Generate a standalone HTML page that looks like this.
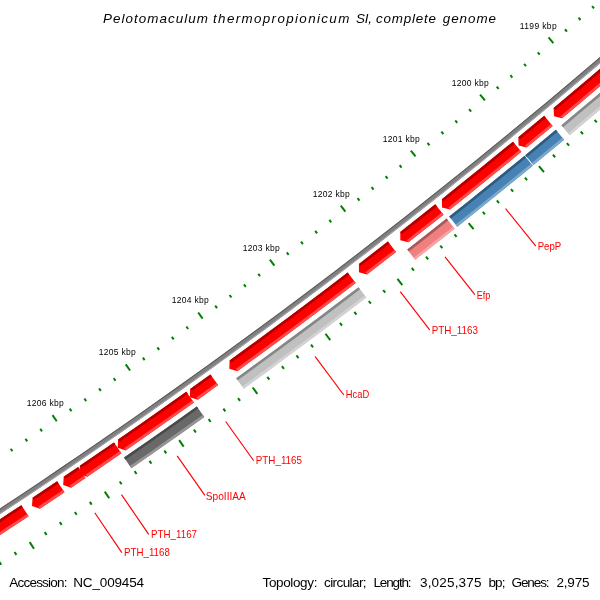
<!DOCTYPE html>
<html><head><meta charset="utf-8"><title>CGView map</title>
<style>
html,body{margin:0;padding:0;background:#fff;}
body{width:600px;height:600px;overflow:hidden;}
svg{display:block;font-family:"Liberation Sans",sans-serif;will-change:transform;}
</style></head><body>
<svg width="600" height="600" viewBox="0 0 600 600">
<rect x="0" y="0" width="600" height="600" fill="#fff"/>
<polygon points="681.56,-13.92 664.72,0.94 647.84,15.74 630.89,30.47 613.89,45.14 596.84,59.75 579.74,74.3 562.58,88.78 545.36,103.2 528.1,117.55 510.78,131.84 493.4,146.06 475.98,160.22 458.5,174.32 440.97,188.35 423.38,202.32 405.75,216.21 388.06,230.05 370.32,243.82 352.54,257.52 334.7,271.15 316.81,284.72 298.87,298.23 280.87,311.66 262.83,325.03 244.74,338.33 226.61,351.57 208.42,364.73 190.18,377.83 171.89,390.86 153.56,403.83 135.18,416.72 116.75,429.55 98.27,442.31 79.75,455 61.17,467.62 42.56,480.17 23.89,492.65 5.18,505.06 -13.58,517.4 -32.38,529.68 -51.23,541.88 -70.12,554.01 -89.06,566.07 -108.05,578.07 -105.46,582.17 -86.47,570.17 -67.51,558.1 -48.6,545.96 -29.74,533.74 -10.92,521.46 7.85,509.11 26.58,496.69 45.26,484.19 63.89,471.63 82.48,459 101.02,446.3 119.51,433.53 137.96,420.7 156.35,407.79 174.7,394.82 193,381.78 211.25,368.67 229.46,355.49 247.61,342.25 265.71,328.93 283.77,315.55 301.77,302.11 319.73,288.59 337.63,275.01 355.49,261.37 373.29,247.65 391.04,233.87 408.74,220.03 426.39,206.12 443.99,192.14 461.53,178.1 479.03,163.99 496.47,149.82 513.85,135.59 531.19,121.29 548.47,106.92 565.7,92.49 582.87,78 599.99,63.44 617.06,48.82 634.07,34.14 651.02,19.39 667.93,4.58 684.77,-10.29" fill="rgb(128,128,128)"/>
<polygon points="681.56,-13.92 664.72,0.94 647.84,15.74 630.89,30.47 613.89,45.14 596.84,59.75 579.74,74.3 562.58,88.78 545.36,103.2 528.1,117.55 510.78,131.84 493.4,146.06 475.98,160.22 458.5,174.32 440.97,188.35 423.38,202.32 405.75,216.21 388.06,230.05 370.32,243.82 352.54,257.52 334.7,271.15 316.81,284.72 298.87,298.23 280.87,311.66 262.83,325.03 244.74,338.33 226.61,351.57 208.42,364.73 190.18,377.83 171.89,390.86 153.56,403.83 135.18,416.72 116.75,429.55 98.27,442.31 79.75,455 61.17,467.62 42.56,480.17 23.89,492.65 5.18,505.06 -13.58,517.4 -32.38,529.68 -51.23,541.88 -70.12,554.01 -89.06,566.07 -108.05,578.07 -107.53,578.89 -88.54,566.89 -69.6,554.83 -50.7,542.7 -31.85,530.49 -13.05,518.22 5.71,505.87 24.43,493.46 43.1,480.97 61.72,468.42 80.29,455.8 98.82,443.11 117.3,430.35 135.73,417.52 154.12,404.62 172.46,391.66 190.74,378.62 208.98,365.52 227.18,352.35 245.32,339.12 263.41,325.81 281.45,312.44 299.45,299 317.39,285.5 335.28,271.93 353.13,258.29 370.92,244.58 388.66,230.81 406.35,216.98 423.98,203.08 441.57,189.11 459.1,175.08 476.59,160.98 494.02,146.82 511.39,132.59 528.71,118.3 545.98,103.94 563.2,89.52 580.36,75.04 597.47,60.49 614.53,45.88 631.53,31.2 648.47,16.47 665.36,1.67 682.2,-13.2" fill="rgb(90,90,90)"/>
<polygon points="684.13,-11.02 667.29,3.85 650.39,18.66 633.43,33.4 616.42,48.09 599.36,62.7 582.24,77.26 565.07,91.75 547.85,106.18 530.57,120.54 513.24,134.84 495.85,149.07 478.42,163.24 460.93,177.35 443.38,191.38 425.79,205.36 408.14,219.27 390.45,233.11 372.7,246.89 354.9,260.6 337.05,274.24 319.14,287.82 301.19,301.33 283.19,314.77 265.14,328.15 247.04,341.46 228.89,354.71 210.69,367.88 192.44,380.99 174.14,394.03 155.79,407 137.4,419.9 118.96,432.74 100.47,445.5 81.93,458.2 63.35,470.83 44.72,483.39 26.04,495.88 7.32,508.3 -11.45,520.65 -30.27,532.93 -49.13,545.14 -68.03,557.28 -86.99,569.35 -105.98,581.35 -105.46,582.17 -86.47,570.17 -67.51,558.1 -48.6,545.96 -29.74,533.74 -10.92,521.46 7.85,509.11 26.58,496.69 45.26,484.19 63.89,471.63 82.48,459 101.02,446.3 119.51,433.53 137.96,420.7 156.35,407.79 174.7,394.82 193,381.78 211.25,368.67 229.46,355.49 247.61,342.25 265.71,328.93 283.77,315.55 301.77,302.11 319.73,288.59 337.63,275.01 355.49,261.37 373.29,247.65 391.04,233.87 408.74,220.03 426.39,206.12 443.99,192.14 461.53,178.1 479.03,163.99 496.47,149.82 513.85,135.59 531.19,121.29 548.47,106.92 565.7,92.49 582.87,78 599.99,63.44 617.06,48.82 634.07,34.14 651.02,19.39 667.93,4.58 684.77,-10.29" fill="rgb(166,166,166)"/>
<polygon points="687.52,-7.19 668.6,9.51 649.61,26.13 630.55,42.67 611.42,59.13 592.22,75.51 572.95,91.81 553.61,108.03 553.97,116.33 562.08,118.16 581.45,101.91 600.76,85.57 620,69.16 639.18,52.66 658.28,36.08 677.31,19.43 696.28,2.69" fill="rgb(255,0,0)"/>
<polygon points="687.52,-7.19 668.6,9.51 649.61,26.13 630.55,42.67 611.42,59.13 592.22,75.51 572.95,91.81 553.61,108.03 555.31,110.06 574.65,93.83 593.93,77.52 613.13,61.14 632.27,44.67 651.34,28.12 670.34,11.5 689.28,-5.21" fill="rgb(178,0,0)"/>
<polygon points="694.53,0.72 675.57,17.44 656.55,34.09 637.45,50.66 618.29,67.15 599.05,83.56 579.75,99.89 560.38,116.14 562.08,118.16 581.45,101.91 600.76,85.57 620,69.16 639.18,52.66 658.28,36.08 677.31,19.43 696.28,2.69" fill="rgb(255,76,76)"/>
<polygon points="544.22,115.87 518.3,137.31 518.59,145.61 526.68,147.5 552.66,126.01" fill="rgb(255,0,0)"/>
<polygon points="544.22,115.87 518.3,137.31 519.97,139.35 545.91,117.89" fill="rgb(178,0,0)"/>
<polygon points="550.97,123.98 525,145.46 526.68,147.5 552.66,126.01" fill="rgb(255,76,76)"/>
<polygon points="513.01,141.65 495.31,156.12 477.55,170.53 459.73,184.87 441.86,199.14 442.02,207.44 450.08,209.47 467.99,195.17 485.84,180.8 503.64,166.36 521.39,151.85" fill="rgb(255,0,0)"/>
<polygon points="513.01,141.65 495.31,156.12 477.55,170.53 459.73,184.87 441.86,199.14 443.51,201.21 461.38,186.93 479.21,172.58 496.98,158.17 514.69,143.69" fill="rgb(178,0,0)"/>
<polygon points="519.71,149.81 501.98,164.31 484.18,178.74 466.34,193.11 448.44,207.41 450.08,209.47 467.99,195.17 485.84,180.8 503.64,166.36 521.39,151.85" fill="rgb(255,76,76)"/>
<polygon points="435.31,204.35 400.26,231.95 400.35,240.25 408.39,242.35 443.52,214.69" fill="rgb(255,0,0)"/>
<polygon points="435.31,204.35 400.26,231.95 401.89,234.03 436.95,206.41" fill="rgb(178,0,0)"/>
<polygon points="441.88,212.62 406.76,240.27 408.39,242.35 443.52,214.69" fill="rgb(255,76,76)"/>
<polygon points="387.91,241.57 358.94,263.95 358.96,272.25 366.98,274.42 396.02,251.99" fill="rgb(255,0,0)"/>
<polygon points="387.91,241.57 358.94,263.95 360.55,266.04 389.53,243.65" fill="rgb(178,0,0)"/>
<polygon points="394.4,249.9 365.37,272.32 366.98,274.42 396.02,251.99" fill="rgb(255,76,76)"/>
<polygon points="347.66,272.59 328.13,287.45 308.53,302.22 288.88,316.92 269.17,331.54 249.4,346.08 229.57,360.54 229.36,368.84 237.32,371.22 257.2,356.73 277.01,342.16 296.76,327.51 316.46,312.78 336.1,297.97 355.67,283.08" fill="rgb(255,0,0)"/>
<polygon points="347.66,272.59 328.13,287.45 308.53,302.22 288.88,316.92 269.17,331.54 249.4,346.08 229.57,360.54 231.12,362.68 250.96,348.21 270.74,333.67 290.46,319.04 310.12,304.33 329.72,289.55 349.26,274.69" fill="rgb(178,0,0)"/>
<polygon points="354.07,280.98 334.5,295.86 314.87,310.67 295.19,325.39 275.44,340.04 255.64,354.6 235.77,369.08 237.32,371.22 257.2,356.73 277.01,342.16 296.76,327.51 316.46,312.78 336.1,297.97 355.67,283.08" fill="rgb(255,76,76)"/>
<polygon points="210.4,374.4 190.15,388.92 189.88,397.22 197.82,399.66 218.11,385.11" fill="rgb(255,0,0)"/>
<polygon points="210.4,374.4 190.15,388.92 191.68,391.07 211.94,376.54" fill="rgb(178,0,0)"/>
<polygon points="216.57,382.97 196.28,397.51 197.82,399.66 218.11,385.11" fill="rgb(255,76,76)"/>
<polygon points="186.27,391.69 163.62,407.75 140.9,423.7 118.1,439.56 117.71,447.85 125.62,450.41 148.46,434.52 171.23,418.53 193.93,402.44" fill="rgb(255,0,0)"/>
<polygon points="186.27,391.69 163.62,407.75 140.9,423.7 118.1,439.56 119.61,441.73 142.41,425.87 165.14,409.9 187.8,393.84" fill="rgb(178,0,0)"/>
<polygon points="192.39,400.29 169.71,416.38 146.95,432.36 124.11,448.24 125.62,450.41 148.46,434.52 171.23,418.53 193.93,402.44" fill="rgb(255,76,76)"/>
<polygon points="113.96,442.42 79.84,465.82 79.38,474.12 87.27,476.74 121.46,453.28" fill="rgb(255,0,0)"/>
<polygon points="113.96,442.42 79.84,465.82 81.32,468.01 115.46,444.59" fill="rgb(178,0,0)"/>
<polygon points="119.96,451.11 85.78,474.55 87.27,476.74 121.46,453.28" fill="rgb(255,76,76)"/>
<polygon points="78.13,466.99 63.69,476.78 63.2,485.07 71.08,487.72 85.55,477.9" fill="rgb(255,0,0)"/>
<polygon points="78.13,466.99 63.69,476.78 65.16,478.97 79.61,469.17" fill="rgb(178,0,0)"/>
<polygon points="84.07,475.72 69.6,485.53 71.08,487.72 85.55,477.9" fill="rgb(255,76,76)"/>
<polygon points="57.12,481.21 32.55,497.7 32.01,505.98 39.87,508.68 64.5,492.16" fill="rgb(255,0,0)"/>
<polygon points="57.12,481.21 32.55,497.7 34.01,499.89 58.6,483.4" fill="rgb(178,0,0)"/>
<polygon points="63.03,489.97 38.41,506.48 39.87,508.68 64.5,492.16" fill="rgb(255,76,76)"/>
<polygon points="21.31,505.17 0.41,518.99 -20.56,532.72 -41.58,546.36 -62.65,559.92 -83.79,573.39 -84.51,581.66 -76.72,584.53 -55.54,571.03 -34.41,557.45 -13.35,543.77 7.66,530.01 28.61,516.17" fill="rgb(255,0,0)"/>
<polygon points="21.31,505.17 0.41,518.99 -20.56,532.72 -41.58,546.36 -62.65,559.92 -83.79,573.39 -82.37,575.62 -61.23,562.14 -40.14,548.58 -19.11,534.93 1.86,521.19 22.77,507.37" fill="rgb(178,0,0)"/>
<polygon points="27.15,513.97 6.21,527.81 -14.79,541.56 -35.85,555.23 -56.96,568.81 -78.13,582.3 -76.72,584.53 -55.54,571.03 -34.41,557.45 -13.35,543.77 7.66,530.01 28.61,516.17" fill="rgb(255,76,76)"/>
<polygon points="699.6,6.44 682.52,21.51 665.38,36.52 648.19,51.47 630.95,66.36 613.64,81.17 596.29,95.93 578.87,110.61 561.4,125.24 569.67,135.14 587.17,120.49 604.62,105.77 622.02,90.99 639.36,76.14 656.64,61.22 673.87,46.24 691.04,31.2 708.15,16.09" fill="rgb(192,192,192)"/>
<polygon points="699.6,6.44 682.52,21.51 665.38,36.52 648.19,51.47 630.95,66.36 613.64,81.17 596.29,95.93 578.87,110.61 561.4,125.24 563.06,127.22 580.53,112.59 597.95,97.9 615.32,83.14 632.63,68.31 649.88,53.42 667.08,38.47 684.22,23.45 701.31,8.37" fill="rgb(134,134,134)"/>
<polygon points="706.44,14.16 689.33,29.26 672.17,44.3 654.95,59.27 637.67,74.18 620.34,89.02 602.95,103.8 585.51,118.52 568.01,133.16 569.67,135.14 587.17,120.49 604.62,105.77 622.02,90.99 639.36,76.14 656.64,61.22 673.87,46.24 691.04,31.2 708.15,16.09" fill="rgb(211,211,211)"/>
<polygon points="555.86,129.86 525.26,155.14 533.44,165.11 564.11,139.77" fill="rgb(70,130,180)"/>
<polygon points="555.86,129.86 525.26,155.14 526.89,157.14 557.51,131.84" fill="rgb(49,91,126)"/>
<polygon points="562.46,137.79 531.81,163.12 533.44,165.11 564.11,139.77" fill="rgb(126,168,202)"/>
<polygon points="524.63,155.66 505.87,170.99 487.06,186.24 468.18,201.42 449.24,216.53 457.26,226.63 476.24,211.49 495.16,196.28 514.02,180.99 532.81,165.63" fill="rgb(70,130,180)"/>
<polygon points="524.63,155.66 505.87,170.99 487.06,186.24 468.18,201.42 449.24,216.53 450.84,218.55 469.79,203.44 488.68,188.25 507.5,172.99 526.27,157.65" fill="rgb(49,91,126)"/>
<polygon points="531.18,163.64 512.39,178.99 493.54,194.27 474.63,209.48 455.66,224.61 457.26,226.63 476.24,211.49 495.16,196.28 514.02,180.99 532.81,165.63" fill="rgb(126,168,202)"/>
<polygon points="446.62,218.6 426.98,234.12 407.27,249.56 415.2,259.73 434.96,244.26 454.64,228.71" fill="rgb(240,128,128)"/>
<polygon points="446.62,218.6 426.98,234.12 407.27,249.56 408.86,251.6 428.57,236.15 448.23,220.62" fill="rgb(168,90,90)"/>
<polygon points="453.04,226.69 433.36,242.23 413.62,257.7 415.2,259.73 434.96,244.26 454.64,228.71" fill="rgb(244,166,166)"/>
<polygon points="358.49,287.21 338.26,302.6 317.97,317.9 297.62,333.11 277.2,348.24 256.72,363.28 236.17,378.23 243.74,388.68 264.33,373.69 284.86,358.62 305.32,343.46 325.72,328.21 346.05,312.88 366.32,297.47" fill="rgb(192,192,192)"/>
<polygon points="358.49,287.21 338.26,302.6 317.97,317.9 297.62,333.11 277.2,348.24 256.72,363.28 236.17,378.23 237.68,380.32 258.24,365.36 278.73,350.31 299.16,335.18 319.52,319.96 339.82,304.65 360.06,289.26" fill="rgb(134,134,134)"/>
<polygon points="364.76,295.42 344.49,310.82 324.17,326.15 303.78,341.39 283.32,356.54 262.81,371.61 242.23,386.59 243.74,388.68 264.33,373.69 284.86,358.62 305.32,343.46 325.72,328.21 346.05,312.88 366.32,297.47" fill="rgb(211,211,211)"/>
<polygon points="196.83,406.51 172.64,423.66 148.37,440.69 124.01,457.6 131.34,468.22 155.75,451.27 180.07,434.2 204.32,417.01" fill="rgb(105,105,105)"/>
<polygon points="196.83,406.51 172.64,423.66 148.37,440.69 124.01,457.6 125.48,459.72 149.84,442.8 174.13,425.77 198.33,408.61" fill="rgb(74,74,74)"/>
<polygon points="202.82,414.91 178.59,432.09 154.27,449.15 129.87,466.09 131.34,468.22 155.75,451.27 180.07,434.2 204.32,417.01" fill="rgb(150,150,150)"/>
<line x1="677.03" y1="49.18" x2="682.23" y2="55.14" stroke="rgb(0,128,0)" stroke-width="2"/>
<line x1="621" y1="-15" x2="616.07" y2="-20.65" stroke="rgb(0,128,0)" stroke-width="2"/>
<line x1="663.38" y1="61.06" x2="665.61" y2="63.63" stroke="rgb(0,128,0)" stroke-width="2"/>
<line x1="607.55" y1="-3.29" x2="605.51" y2="-5.63" stroke="rgb(0,128,0)" stroke-width="2"/>
<line x1="649.7" y1="72.9" x2="651.92" y2="75.48" stroke="rgb(0,128,0)" stroke-width="2"/>
<line x1="594.05" y1="8.39" x2="592.03" y2="6.04" stroke="rgb(0,128,0)" stroke-width="2"/>
<line x1="635.98" y1="84.7" x2="638.19" y2="87.28" stroke="rgb(0,128,0)" stroke-width="2"/>
<line x1="580.52" y1="20.02" x2="578.51" y2="17.67" stroke="rgb(0,128,0)" stroke-width="2"/>
<line x1="622.23" y1="96.46" x2="624.43" y2="99.05" stroke="rgb(0,128,0)" stroke-width="2"/>
<line x1="566.96" y1="31.61" x2="564.95" y2="29.25" stroke="rgb(0,128,0)" stroke-width="2"/>
<line x1="608.44" y1="108.18" x2="613.54" y2="114.2" stroke="rgb(0,128,0)" stroke-width="2"/>
<line x1="553.37" y1="43.17" x2="548.52" y2="37.44" stroke="rgb(0,128,0)" stroke-width="2"/>
<line x1="594.61" y1="119.85" x2="596.8" y2="122.45" stroke="rgb(0,128,0)" stroke-width="2"/>
<line x1="539.73" y1="54.68" x2="537.74" y2="52.31" stroke="rgb(0,128,0)" stroke-width="2"/>
<line x1="580.75" y1="131.49" x2="582.93" y2="134.09" stroke="rgb(0,128,0)" stroke-width="2"/>
<line x1="526.07" y1="66.15" x2="524.08" y2="63.77" stroke="rgb(0,128,0)" stroke-width="2"/>
<line x1="566.86" y1="143.08" x2="569.03" y2="145.69" stroke="rgb(0,128,0)" stroke-width="2"/>
<line x1="512.37" y1="77.58" x2="510.39" y2="75.2" stroke="rgb(0,128,0)" stroke-width="2"/>
<line x1="552.93" y1="154.63" x2="555.1" y2="157.25" stroke="rgb(0,128,0)" stroke-width="2"/>
<line x1="498.64" y1="88.97" x2="496.66" y2="86.58" stroke="rgb(0,128,0)" stroke-width="2"/>
<line x1="538.97" y1="166.14" x2="543.98" y2="172.24" stroke="rgb(0,128,0)" stroke-width="2"/>
<line x1="484.87" y1="100.32" x2="480.11" y2="94.53" stroke="rgb(0,128,0)" stroke-width="2"/>
<line x1="524.97" y1="177.61" x2="527.12" y2="180.24" stroke="rgb(0,128,0)" stroke-width="2"/>
<line x1="471.07" y1="111.63" x2="469.11" y2="109.23" stroke="rgb(0,128,0)" stroke-width="2"/>
<line x1="510.94" y1="189.04" x2="513.08" y2="191.68" stroke="rgb(0,128,0)" stroke-width="2"/>
<line x1="457.23" y1="122.89" x2="455.28" y2="120.49" stroke="rgb(0,128,0)" stroke-width="2"/>
<line x1="496.88" y1="200.42" x2="499.01" y2="203.07" stroke="rgb(0,128,0)" stroke-width="2"/>
<line x1="443.37" y1="134.12" x2="441.42" y2="131.71" stroke="rgb(0,128,0)" stroke-width="2"/>
<line x1="482.78" y1="211.77" x2="484.9" y2="214.42" stroke="rgb(0,128,0)" stroke-width="2"/>
<line x1="429.47" y1="145.31" x2="427.53" y2="142.89" stroke="rgb(0,128,0)" stroke-width="2"/>
<line x1="468.64" y1="223.07" x2="473.57" y2="229.24" stroke="rgb(0,128,0)" stroke-width="2"/>
<line x1="415.53" y1="156.45" x2="410.86" y2="150.58" stroke="rgb(0,128,0)" stroke-width="2"/>
<line x1="454.48" y1="234.33" x2="456.59" y2="236.99" stroke="rgb(0,128,0)" stroke-width="2"/>
<line x1="401.56" y1="167.55" x2="399.64" y2="165.12" stroke="rgb(0,128,0)" stroke-width="2"/>
<line x1="440.28" y1="245.54" x2="442.38" y2="248.21" stroke="rgb(0,128,0)" stroke-width="2"/>
<line x1="387.56" y1="178.61" x2="385.65" y2="176.17" stroke="rgb(0,128,0)" stroke-width="2"/>
<line x1="426.05" y1="256.72" x2="428.14" y2="259.4" stroke="rgb(0,128,0)" stroke-width="2"/>
<line x1="373.53" y1="189.63" x2="371.62" y2="187.19" stroke="rgb(0,128,0)" stroke-width="2"/>
<line x1="411.78" y1="267.85" x2="413.87" y2="270.53" stroke="rgb(0,128,0)" stroke-width="2"/>
<line x1="359.47" y1="200.61" x2="357.56" y2="198.16" stroke="rgb(0,128,0)" stroke-width="2"/>
<line x1="397.48" y1="278.94" x2="402.32" y2="285.19" stroke="rgb(0,128,0)" stroke-width="2"/>
<line x1="345.37" y1="211.54" x2="340.78" y2="205.61" stroke="rgb(0,128,0)" stroke-width="2"/>
<line x1="383.15" y1="289.99" x2="385.22" y2="292.68" stroke="rgb(0,128,0)" stroke-width="2"/>
<line x1="331.24" y1="222.43" x2="329.35" y2="219.97" stroke="rgb(0,128,0)" stroke-width="2"/>
<line x1="368.79" y1="300.99" x2="370.85" y2="303.7" stroke="rgb(0,128,0)" stroke-width="2"/>
<line x1="317.07" y1="233.28" x2="315.19" y2="230.82" stroke="rgb(0,128,0)" stroke-width="2"/>
<line x1="354.39" y1="311.96" x2="356.45" y2="314.66" stroke="rgb(0,128,0)" stroke-width="2"/>
<line x1="302.88" y1="244.09" x2="301" y2="241.62" stroke="rgb(0,128,0)" stroke-width="2"/>
<line x1="339.96" y1="322.87" x2="342.01" y2="325.59" stroke="rgb(0,128,0)" stroke-width="2"/>
<line x1="288.65" y1="254.86" x2="286.78" y2="252.38" stroke="rgb(0,128,0)" stroke-width="2"/>
<line x1="325.5" y1="333.75" x2="330.24" y2="340.07" stroke="rgb(0,128,0)" stroke-width="2"/>
<line x1="274.39" y1="265.58" x2="269.89" y2="259.58" stroke="rgb(0,128,0)" stroke-width="2"/>
<line x1="311" y1="344.58" x2="313.04" y2="347.31" stroke="rgb(0,128,0)" stroke-width="2"/>
<line x1="260.1" y1="276.26" x2="258.25" y2="273.78" stroke="rgb(0,128,0)" stroke-width="2"/>
<line x1="296.48" y1="355.37" x2="298.5" y2="358.11" stroke="rgb(0,128,0)" stroke-width="2"/>
<line x1="245.78" y1="286.9" x2="243.93" y2="284.41" stroke="rgb(0,128,0)" stroke-width="2"/>
<line x1="281.92" y1="366.12" x2="283.94" y2="368.86" stroke="rgb(0,128,0)" stroke-width="2"/>
<line x1="231.42" y1="297.5" x2="229.58" y2="295" stroke="rgb(0,128,0)" stroke-width="2"/>
<line x1="267.33" y1="376.82" x2="269.34" y2="379.57" stroke="rgb(0,128,0)" stroke-width="2"/>
<line x1="217.04" y1="308.05" x2="215.21" y2="305.55" stroke="rgb(0,128,0)" stroke-width="2"/>
<line x1="252.71" y1="387.48" x2="257.35" y2="393.87" stroke="rgb(0,128,0)" stroke-width="2"/>
<line x1="202.62" y1="318.56" x2="198.21" y2="312.5" stroke="rgb(0,128,0)" stroke-width="2"/>
<line x1="238.05" y1="398.1" x2="240.04" y2="400.86" stroke="rgb(0,128,0)" stroke-width="2"/>
<line x1="188.17" y1="329.03" x2="186.36" y2="326.52" stroke="rgb(0,128,0)" stroke-width="2"/>
<line x1="223.37" y1="408.67" x2="225.35" y2="411.43" stroke="rgb(0,128,0)" stroke-width="2"/>
<line x1="173.69" y1="339.45" x2="171.88" y2="336.94" stroke="rgb(0,128,0)" stroke-width="2"/>
<line x1="208.65" y1="419.2" x2="210.63" y2="421.97" stroke="rgb(0,128,0)" stroke-width="2"/>
<line x1="159.18" y1="349.84" x2="157.38" y2="347.31" stroke="rgb(0,128,0)" stroke-width="2"/>
<line x1="193.9" y1="429.69" x2="195.87" y2="432.46" stroke="rgb(0,128,0)" stroke-width="2"/>
<line x1="144.64" y1="360.17" x2="142.85" y2="357.65" stroke="rgb(0,128,0)" stroke-width="2"/>
<line x1="179.13" y1="440.13" x2="183.67" y2="446.59" stroke="rgb(0,128,0)" stroke-width="2"/>
<line x1="130.07" y1="370.47" x2="125.75" y2="364.34" stroke="rgb(0,128,0)" stroke-width="2"/>
<line x1="164.32" y1="450.53" x2="166.27" y2="453.31" stroke="rgb(0,128,0)" stroke-width="2"/>
<line x1="115.46" y1="380.72" x2="113.69" y2="378.18" stroke="rgb(0,128,0)" stroke-width="2"/>
<line x1="149.47" y1="460.88" x2="151.42" y2="463.67" stroke="rgb(0,128,0)" stroke-width="2"/>
<line x1="100.83" y1="390.93" x2="99.06" y2="388.38" stroke="rgb(0,128,0)" stroke-width="2"/>
<line x1="134.6" y1="471.19" x2="136.54" y2="473.99" stroke="rgb(0,128,0)" stroke-width="2"/>
<line x1="86.17" y1="401.09" x2="84.41" y2="398.54" stroke="rgb(0,128,0)" stroke-width="2"/>
<line x1="119.7" y1="481.45" x2="121.63" y2="484.26" stroke="rgb(0,128,0)" stroke-width="2"/>
<line x1="71.47" y1="411.22" x2="69.72" y2="408.66" stroke="rgb(0,128,0)" stroke-width="2"/>
<line x1="104.77" y1="491.67" x2="109.22" y2="498.2" stroke="rgb(0,128,0)" stroke-width="2"/>
<line x1="56.75" y1="421.29" x2="52.52" y2="415.1" stroke="rgb(0,128,0)" stroke-width="2"/>
<line x1="89.81" y1="501.85" x2="91.71" y2="504.66" stroke="rgb(0,128,0)" stroke-width="2"/>
<line x1="42" y1="431.33" x2="40.26" y2="428.76" stroke="rgb(0,128,0)" stroke-width="2"/>
<line x1="74.81" y1="511.98" x2="76.71" y2="514.8" stroke="rgb(0,128,0)" stroke-width="2"/>
<line x1="27.21" y1="441.32" x2="25.48" y2="438.74" stroke="rgb(0,128,0)" stroke-width="2"/>
<line x1="59.79" y1="522.07" x2="61.68" y2="524.89" stroke="rgb(0,128,0)" stroke-width="2"/>
<line x1="12.4" y1="451.26" x2="10.68" y2="448.69" stroke="rgb(0,128,0)" stroke-width="2"/>
<line x1="44.74" y1="532.11" x2="46.62" y2="534.94" stroke="rgb(0,128,0)" stroke-width="2"/>
<line x1="-2.44" y1="461.16" x2="-4.16" y2="458.58" stroke="rgb(0,128,0)" stroke-width="2"/>
<line x1="29.65" y1="542.11" x2="34.01" y2="548.7" stroke="rgb(0,128,0)" stroke-width="2"/>
<line x1="-17.31" y1="471.02" x2="-21.45" y2="464.76" stroke="rgb(0,128,0)" stroke-width="2"/>
<line x1="14.54" y1="552.06" x2="16.41" y2="554.9" stroke="rgb(0,128,0)" stroke-width="2"/>
<line x1="-32.21" y1="480.83" x2="-33.91" y2="478.24" stroke="rgb(0,128,0)" stroke-width="2"/>
<line x1="-0.6" y1="561.97" x2="1.26" y2="564.81" stroke="rgb(0,128,0)" stroke-width="2"/>
<line x1="-47.14" y1="490.6" x2="-48.84" y2="488.01" stroke="rgb(0,128,0)" stroke-width="2"/>
<line x1="-15.77" y1="571.83" x2="-13.92" y2="574.68" stroke="rgb(0,128,0)" stroke-width="2"/>
<line x1="-62.1" y1="500.33" x2="-63.79" y2="497.72" stroke="rgb(0,128,0)" stroke-width="2"/>
<line x1="-30.97" y1="581.65" x2="-29.13" y2="584.5" stroke="rgb(0,128,0)" stroke-width="2"/>
<line x1="-77.09" y1="510.01" x2="-78.77" y2="507.4" stroke="rgb(0,128,0)" stroke-width="2"/>
<line x1="-46.2" y1="591.42" x2="-41.95" y2="598.07" stroke="rgb(0,128,0)" stroke-width="2"/>
<line x1="-92.11" y1="519.64" x2="-96.15" y2="513.32" stroke="rgb(0,128,0)" stroke-width="2"/>
<line x1="-61.46" y1="601.14" x2="-59.64" y2="604.01" stroke="rgb(0,128,0)" stroke-width="2"/>
<line x1="-107.15" y1="529.23" x2="-108.81" y2="526.61" stroke="rgb(0,128,0)" stroke-width="2"/>
<line x1="-76.75" y1="610.82" x2="-74.93" y2="613.7" stroke="rgb(0,128,0)" stroke-width="2"/>
<line x1="-122.23" y1="538.78" x2="-123.88" y2="536.15" stroke="rgb(0,128,0)" stroke-width="2"/>
<text x="519.7" y="29" font-size="8.5" textLength="37" lengthAdjust="spacing" fill="#000">1199 kbp</text>
<text x="451.8" y="86" font-size="8.5" textLength="37" lengthAdjust="spacing" fill="#000">1200 kbp</text>
<text x="382.8" y="141.8" font-size="8.5" textLength="37" lengthAdjust="spacing" fill="#000">1201 kbp</text>
<text x="312.8" y="196.8" font-size="8.5" textLength="37" lengthAdjust="spacing" fill="#000">1202 kbp</text>
<text x="242.8" y="251" font-size="8.5" textLength="37" lengthAdjust="spacing" fill="#000">1203 kbp</text>
<text x="171.8" y="303" font-size="8.5" textLength="37" lengthAdjust="spacing" fill="#000">1204 kbp</text>
<text x="98.8" y="354.8" font-size="8.5" textLength="37" lengthAdjust="spacing" fill="#000">1205 kbp</text>
<text x="26.8" y="406" font-size="8.5" textLength="37" lengthAdjust="spacing" fill="#000">1206 kbp</text>
<line x1="505.56" y1="208.58" x2="535.84" y2="246.08" stroke="rgb(255,0,0)" stroke-width="1.15"/>
<text x="537.7" y="250.3" font-size="10.2" textLength="23.6" lengthAdjust="spacingAndGlyphs" fill="rgb(255,0,0)">PepP</text>
<line x1="445.02" y1="256.83" x2="474.82" y2="294.71" stroke="rgb(255,0,0)" stroke-width="1.15"/>
<text x="476.7" y="299.2" font-size="10.2" textLength="13.6" lengthAdjust="spacingAndGlyphs" fill="rgb(255,0,0)">Efp</text>
<line x1="400.25" y1="291.71" x2="429.7" y2="329.87" stroke="rgb(255,0,0)" stroke-width="1.15"/>
<text x="431.7" y="334.3" font-size="10.2" textLength="46.3" lengthAdjust="spacingAndGlyphs" fill="rgb(255,0,0)">PTH_1163</text>
<line x1="315" y1="356.32" x2="343.78" y2="394.99" stroke="rgb(255,0,0)" stroke-width="1.15"/>
<text x="345.8" y="398.3" font-size="10.2" textLength="23.4" lengthAdjust="spacingAndGlyphs" fill="rgb(255,0,0)">HcaD</text>
<line x1="225.68" y1="421.53" x2="253.75" y2="460.72" stroke="rgb(255,0,0)" stroke-width="1.15"/>
<text x="255.8" y="464.3" font-size="10.2" textLength="46.2" lengthAdjust="spacingAndGlyphs" fill="rgb(255,0,0)">PTH_1165</text>
<line x1="177.17" y1="455.93" x2="204.85" y2="495.38" stroke="rgb(255,0,0)" stroke-width="1.15"/>
<text x="205.8" y="500.3" font-size="10.2" textLength="40" lengthAdjust="spacingAndGlyphs" fill="rgb(255,0,0)">SpoIIIAA</text>
<line x1="121.45" y1="494.56" x2="148.69" y2="534.33" stroke="rgb(255,0,0)" stroke-width="1.15"/>
<text x="151.1" y="538" font-size="10.2" textLength="45.9" lengthAdjust="spacingAndGlyphs" fill="rgb(255,0,0)">PTH_1167</text>
<line x1="94.78" y1="512.74" x2="121.81" y2="552.64" stroke="rgb(255,0,0)" stroke-width="1.15"/>
<text x="124" y="556" font-size="10.2" textLength="45.9" lengthAdjust="spacingAndGlyphs" fill="rgb(255,0,0)">PTH_1168</text>
<text x="103" y="22.6" font-size="13.4" font-style="italic" textLength="105" lengthAdjust="spacing" fill="#000">Pelotomaculum</text>
<text x="213" y="22.6" font-size="13.4" font-style="italic" textLength="136.3" lengthAdjust="spacing" fill="#000">thermopropionicum</text>
<text x="356" y="22.6" font-size="13.4" font-style="italic" textLength="16" lengthAdjust="spacing" fill="#000">SI,</text>
<text x="376" y="22.6" font-size="13.4" font-style="italic" textLength="60" lengthAdjust="spacing" fill="#000">complete</text>
<text x="442.7" y="22.6" font-size="13.4" font-style="italic" textLength="53.3" lengthAdjust="spacing" fill="#000">genome</text>
<text x="9.3" y="586.9" font-size="13.5" textLength="58.2" lengthAdjust="spacing" fill="#000">Accession:</text>
<text x="73.3" y="586.9" font-size="13.5" textLength="70.7" lengthAdjust="spacing" fill="#000">NC_009454</text>
<text x="262.5" y="586.9" font-size="13.5" textLength="54.9" lengthAdjust="spacing" fill="#000">Topology:</text>
<text x="324" y="586.9" font-size="13.5" textLength="42.6" lengthAdjust="spacing" fill="#000">circular;</text>
<text x="373.5" y="586.9" font-size="13.5" textLength="38.1" lengthAdjust="spacing" fill="#000">Length:</text>
<text x="420" y="586.9" font-size="13.5" textLength="61.5" lengthAdjust="spacing" fill="#000">3,025,375</text>
<text x="488.4" y="586.9" font-size="13.5" textLength="17.1" lengthAdjust="spacing" fill="#000">bp;</text>
<text x="511.5" y="586.9" font-size="13.5" textLength="38.1" lengthAdjust="spacing" fill="#000">Genes:</text>
<text x="556.5" y="586.9" font-size="13.5" textLength="33" lengthAdjust="spacing" fill="#000">2,975</text>
</svg>
</body></html>
